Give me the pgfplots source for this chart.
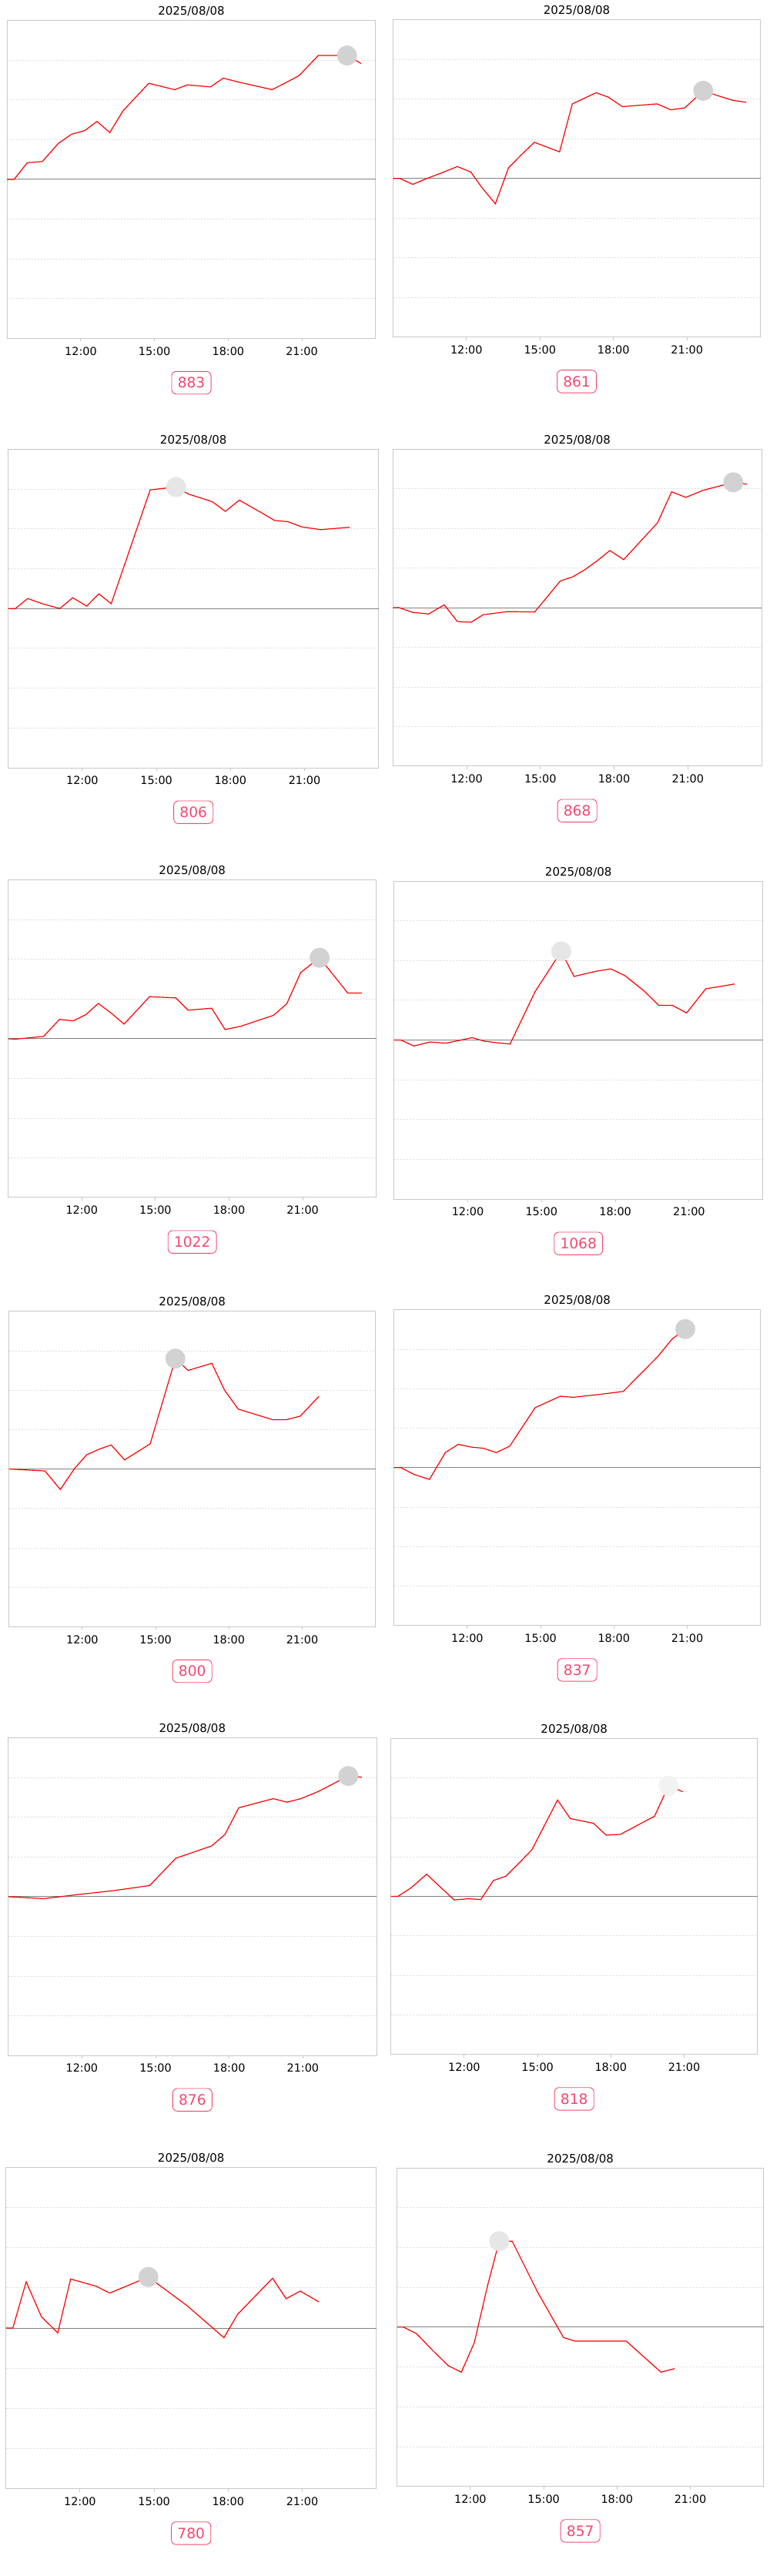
\documentclass[border=0pt]{standalone}
\usepackage{fontspec}
\setmainfont{DejaVu Sans}
\usepackage{pgfplots}
\pgfplotsset{compat=1.18}

\definecolor{badge}{RGB}{242,72,110}
\definecolor{frame}{RGB}{200,200,200}
\definecolor{gridc}{RGB}{222,222,222}
\definecolor{zeroc}{RGB}{128,128,128}
\definecolor{dotA}{RGB}{210,210,210}
\definecolor{dotB}{RGB}{230,230,230}
\definecolor{dotC}{RGB}{242,242,242}

% one 1px of the reference = 0.5pt
\pgfplotsset{
  panel/.style={
    scale only axis, anchor=north west,
    xmin=9, xmax=24, ymin=-4, ymax=4,
    xtick={12,15,18,21}, xticklabels={12:00,15:00,18:00,21:00},
    xtick pos=left, tick align=outside, major tick length=2pt,
    xtick style={color=frame, line width=0.5pt},
    ytick={-3,-2,-1,1,2,3}, yticklabels={}, ytick style={draw=none},
    ymajorgrids,
    major grid style={color=gridc, line width=0.4pt, dash pattern=on 1pt off 1pt},
    extra y ticks={0}, extra y tick labels={},
    extra y tick style={grid=major, ytick style={draw=none},
      major grid style={color=zeroc, solid, line width=0.5pt}},
    axis line style={color=frame, line width=0.5pt},
    title={2025/08/08},
    every axis title/.style={at={(axis description cs:0.5,1)}, anchor=center,
      yshift=5.85pt, font=\fontsize{7.5}{9}\selectfont},
    xticklabel style={anchor=center, yshift=-6.35pt, font=\fontsize{7.2}{9}\selectfont},
    every axis x label/.style={at={(axis description cs:0.5,0)}, anchor=center,
      yshift=-28.85pt, draw=badge, text=badge, rounded corners=3pt, line width=0.45pt,
      inner xsep=3.9pt, inner ysep=0pt, minimum height=14.7pt,
      font=\fontsize{9.3}{11}\selectfont},
  },
  dot/.style={only marks, mark=*, mark size=6.3pt, color=#1},
  trace/.style={red, line width=0.6pt},
}

\begin{document}
\begin{tikzpicture}
\path[use as bounding box] (0,0) rectangle (500pt,-1672.5pt);

% row 1
\begin{axis}[panel, at={(4.65pt,-13.35pt)}, width=239.2pt, height=206.3pt, xlabel={883}]
\addplot[dot=dotA] coordinates {(22.84,3.12)};
\addplot[trace] coordinates {
(9.00,0) (9.28,0) (9.82,0.42) (10.43,0.45) (11.09,0.91) (11.63,1.14) (12.16,1.23)
(12.66,1.46) (13.18,1.18) (13.72,1.73) (14.25,2.08) (14.77,2.42) (15.82,2.26)
(16.34,2.38) (17.28,2.33) (17.80,2.55) (18.43,2.45) (19.79,2.26) (20.36,2.44)
(20.88,2.61) (21.67,3.12) (22.84,3.12) (23.41,2.92)};
\end{axis}

\begin{axis}[panel, at={(255.15pt,-12.85pt)}, width=238.7pt, height=206pt, xlabel={861}]
\addplot[dot=dotA] coordinates {(21.66,2.21)};
\addplot[trace] coordinates {
(9.00,0) (9.28,0) (9.81,-0.15) (10.35,-0.01) (11.03,0.15) (11.63,0.30) (12.18,0.16)
(12.63,-0.23) (13.18,-0.64) (13.72,0.27) (14.23,0.59) (14.77,0.91) (15.80,0.67)
(16.32,1.88) (17.29,2.16) (17.79,2.05) (18.36,1.81) (19.78,1.88) (20.33,1.73)
(20.91,1.78) (21.66,2.21) (22.29,2.08) (22.87,1.97) (23.41,1.92)};
\end{axis}

% row 2
\begin{axis}[panel, at={(5.35pt,-291.65pt)}, width=240.5pt, height=206.85pt, xlabel={806}]
\addplot[dot=dotB] coordinates {(15.80,3.05)};
\addplot[trace] coordinates {
(9.00,0) (9.29,0) (9.79,0.25) (10.43,0.11) (11.09,0) (11.61,0.27) (12.18,0.06)
(12.67,0.37) (13.17,0.12) (14.75,2.98) (15.80,3.05) (16.31,2.87) (16.78,2.78)
(17.27,2.68) (17.79,2.44) (18.36,2.72) (19.27,2.40) (19.79,2.21) (20.33,2.18)
(20.88,2.05) (21.66,1.98) (22.83,2.04)};
\end{axis}

\begin{axis}[panel, at={(255.15pt,-291.5pt)}, width=239.35pt, height=206pt, xlabel={868}]
\addplot[dot=dotA] coordinates {(22.85,3.16)};
\addplot[trace] coordinates {
(9.00,0) (9.25,0) (9.80,-0.12) (10.45,-0.16) (11.09,0.07) (11.62,-0.35) (12.18,-0.37)
(12.67,-0.18) (13.17,-0.14) (13.69,-0.10) (14.77,-0.11) (15.81,0.67) (16.33,0.78)
(16.82,0.96) (17.29,1.17) (17.83,1.44) (18.39,1.21) (19.77,2.14) (20.34,2.92)
(20.92,2.78) (21.63,2.96) (22.26,3.06) (22.85,3.16) (23.41,3.11)};
\end{axis}

% row 3
\begin{axis}[panel, at={(5.35pt,-571.35pt)}, width=239pt, height=206.15pt, xlabel={1022}]
\addplot[dot=dotA] coordinates {(21.69,2.04)};
\addplot[trace] coordinates {
(9.00,0) (9.29,-0.01) (10.44,0.06) (11.09,0.49) (11.65,0.45) (12.17,0.61) (12.67,0.89)
(13.19,0.65) (13.72,0.37) (14.76,1.06) (15.83,1.03) (16.33,0.72) (17.29,0.77)
(17.84,0.23) (18.50,0.32) (19.81,0.59) (20.35,0.88) (20.92,1.67) (21.69,2.04)
(22.84,1.15) (23.41,1.15)};
\end{axis}

\begin{axis}[panel, at={(255.85pt,-572pt)}, width=239.5pt, height=206.5pt, xlabel={1068}]
\addplot[dot=dotB] coordinates {(15.80,2.23)};
\addplot[trace] coordinates {
(9.00,0) (9.28,0) (9.81,-0.15) (10.46,-0.05) (11.11,-0.08) (11.66,-0.01) (12.18,0.06)
(12.68,-0.03) (13.21,-0.07) (13.72,-0.10) (14.74,1.22) (15.80,2.23) (16.32,1.60)
(17.22,1.73) (17.82,1.79) (18.39,1.62) (19.18,1.23) (19.77,0.87) (20.33,0.87)
(20.90,0.68) (21.68,1.29) (22.20,1.34) (22.85,1.41)};
\end{axis}

% row 4
\begin{axis}[panel, at={(5.85pt,-851.35pt)}, width=238pt, height=204.8pt, xlabel={800}]
\addplot[dot=dotA] coordinates {(15.81,2.80)};
\addplot[trace] coordinates {
(9.00,0) (10.47,-0.05) (11.10,-0.52) (11.68,0.01) (12.18,0.36) (12.68,0.50)
(13.18,0.61) (13.73,0.23) (14.78,0.64) (15.81,2.80) (16.33,2.50) (17.30,2.68)
(17.82,2.00) (18.38,1.52) (19.79,1.25) (20.34,1.25) (20.92,1.34) (21.68,1.84)};
\end{axis}

\begin{axis}[panel, at={(255.85pt,-850.35pt)}, width=238pt, height=205pt, xlabel={837}]
\addplot[dot=dotA] coordinates {(20.92,3.51)};
\addplot[trace] coordinates {
(9.00,0) (9.28,0) (9.81,-0.17) (10.45,-0.30) (11.10,0.38) (11.63,0.59) (12.15,0.52)
(12.66,0.49) (13.18,0.38) (13.73,0.54) (14.78,1.52) (15.81,1.81) (16.33,1.78)
(17.35,1.85) (18.38,1.93) (19.79,2.81) (20.37,3.25) (20.92,3.51)};
\end{axis}

% row 5
\begin{axis}[panel, at={(5.35pt,-1128.35pt)}, width=239.15pt, height=206.15pt, xlabel={876}]
\addplot[dot=dotA] coordinates {(22.85,3.04)};
\addplot[trace] coordinates {
(9.00,0) (10.44,-0.05) (11.80,0.05) (13.26,0.15) (14.76,0.28) (15.83,0.97)
(16.40,1.09) (17.29,1.28) (17.83,1.57) (18.39,2.24) (19.80,2.47) (20.35,2.38)
(20.92,2.47) (21.63,2.65) (22.85,3.04) (23.40,3.01)};
\end{axis}

\begin{axis}[panel, at={(253.85pt,-1128.65pt)}, width=238pt, height=205.2pt, xlabel={818}]
\addplot[dot=dotC] coordinates {(20.36,2.80)};
\addplot[trace] coordinates {
(9.00,0) (9.28,0) (9.81,0.21) (10.46,0.56) (11.59,-0.09) (12.17,-0.06) (12.68,-0.08)
(13.19,0.40) (13.70,0.51) (14.22,0.83) (14.77,1.18) (15.82,2.44) (16.34,1.97)
(17.29,1.85) (17.81,1.55) (18.39,1.57) (19.79,2.03) (20.36,2.80) (20.94,2.65)};
\end{axis}

% row 6
\begin{axis}[panel, at={(3.85pt,-1407.15pt)}, width=240.5pt, height=208.7pt, xlabel={780}]
\addplot[dot=dotA] coordinates {(14.77,1.27)};
\addplot[trace] coordinates {
(9.00,0) (9.28,0) (9.82,1.15) (10.44,0.28) (11.10,-0.12) (11.62,1.22) (12.66,1.04)
(13.20,0.87) (14.77,1.27) (16.33,0.56) (17.83,-0.24) (18.38,0.34) (19.80,1.24)
(20.35,0.73) (20.92,0.92) (21.68,0.65)};
\end{axis}

\begin{axis}[panel, at={(257.85pt,-1407.5pt)}, width=238pt, height=206.85pt, xlabel={857}]
\addplot[dot=dotB] coordinates {(13.18,2.16)};
\addplot[trace] coordinates {
(9.00,0) (9.26,0) (9.79,-0.16) (10.45,-0.58) (11.10,-0.97) (11.63,-1.13) (12.16,-0.39)
(12.71,1.06) (13.18,2.16) (13.71,2.16) (14.76,0.87) (15.81,-0.26) (16.28,-0.35)
(16.80,-0.35) (17.33,-0.35) (17.85,-0.35) (18.38,-0.35) (19.80,-1.13) (20.36,-1.04)};
\end{axis}
\end{tikzpicture}
\end{document}
